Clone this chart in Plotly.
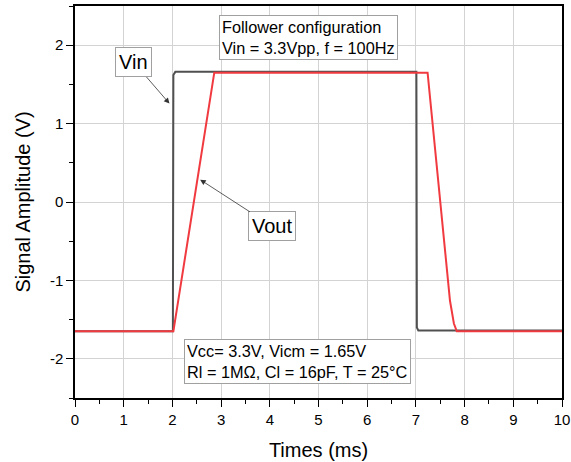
import plotly.graph_objects as go

# Data
vin_t = [0.0, 2.01, 2.02, 2.06, 7.01, 7.02, 7.05, 10.0]
vin_v = [-1.65, -1.65, 1.62, 1.66, 1.66, -1.60, -1.64, -1.64]
vout_t = [0.0, 2.02, 2.86, 7.24, 7.70, 7.78, 7.84, 10.0]
vout_v = [-1.65, -1.65, 1.65, 1.65, -1.26, -1.55, -1.65, -1.65]

x_ticks = list(range(0, 11))
x_ticktext = [str(v) for v in x_ticks]
y_ticks = [-2, -1, 0, 1, 2]
y_ticktext = ["-2", "-1", "0", "1", "2"]

FONT = "Liberation Sans, Arial, sans-serif"

fig = go.Figure()
fig.add_trace(go.Scatter(x=vin_t, y=vin_v, mode="lines",
                         line=dict(color="#505050", width=2), name="Vin"))
fig.add_trace(go.Scatter(x=vout_t, y=vout_v, mode="lines",
                         line=dict(color="#f03a40", width=2), name="Vout"))

axis_common = dict(
    showline=True, linecolor="black", linewidth=1.5, mirror=True,
    ticks="outside", ticklen=7, tickwidth=1.2, tickcolor="black",
    showgrid=True, gridcolor="#d3d3d3", gridwidth=1,
    zeroline=False, ticklabeloverflow="allow", automargin=False,
    tickfont=dict(family=FONT, size=15, color="black"),
)

fig.update_xaxes(range=[0, 10], tickvals=x_ticks, ticktext=x_ticktext,
                 minor=dict(dtick=0.5, ticks="outside", ticklen=4, tickcolor="black", showgrid=False),
                 title=dict(text="Times (ms)", font=dict(family=FONT, size=20, color="black"), standoff=16),
                 **axis_common)
fig.update_yaxes(range=[-2.5, 2.5], tickvals=y_ticks, ticktext=y_ticktext,
                 minor=dict(dtick=0.5, ticks="outside", ticklen=4, tickcolor="black", showgrid=False),
                 title=dict(text="Signal Amplitude (V)", font=dict(family=FONT, size=20, color="black"), standoff=14),
                 **axis_common)

box = dict(bordercolor="#a0a0a0", borderwidth=1, bgcolor="white")

fig.add_annotation(x=4.8, y=2.10, xref="x", yref="y", showarrow=False,
                   text="Follower configuration<br>Vin = 3.3Vpp, f = 100Hz", align="left",
                   font=dict(family=FONT, size=16.3, color="black"), borderpad=2, **box)
fig.add_annotation(x=4.57, y=-2.04, xref="x", yref="y", showarrow=False,
                   text="Vcc= 3.3V, Vicm = 1.65V<br>Rl = 1MΩ, Cl = 16pF, T = 25°C", align="left",
                   font=dict(family=FONT, size=16.3, color="black"), borderpad=2, **box)
fig.add_annotation(x=1.94, y=1.255, ax=1.21, ay=1.78, xref="x", yref="y", axref="x", ayref="y",
                   text="Vin", showarrow=True, arrowhead=2, arrowsize=1.4, arrowwidth=0.8,
                   arrowcolor="#333333", font=dict(family=FONT, size=20, color="black"),
                   borderpad=3, **box)
fig.add_annotation(x=2.57, y=0.285, ax=4.05, ay=-0.31, xref="x", yref="y", axref="x", ayref="y",
                   text="Vout", showarrow=True, arrowhead=2, arrowsize=1.4, arrowwidth=0.8,
                   arrowcolor="#333333", font=dict(family=FONT, size=20, color="black"),
                   borderpad=3, **box)

fig.update_layout(
    width=571, height=462,
    margin=dict(l=75, r=9, t=6, b=64),
    paper_bgcolor="white", plot_bgcolor="white",
    showlegend=False,
    font=dict(family=FONT, color="black"),
)

fig.write_html("out.html")
